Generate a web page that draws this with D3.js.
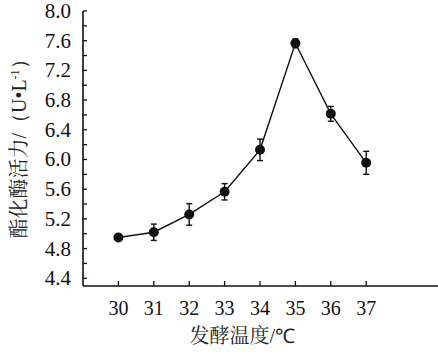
<!DOCTYPE html>
<html><head><meta charset="utf-8"><script src="https://cdn.jsdelivr.net/npm/d3@7"></script></head>
<body style="margin:0">
<script>
// data
const temps = [30, 31, 32, 33, 34, 35, 36, 37];
const activity = [4.95, 5.02, 5.26, 5.565, 6.13, 7.565, 6.615, 5.955];
const errors = [0.03, 0.11, 0.145, 0.11, 0.145, 0.06, 0.10, 0.155];
const yTickLabels = [4.4, 4.8, 5.2, 5.6, 6.0, 6.4, 6.8, 7.2, 7.6, 8.0];

const FONT = "'Liberation Serif'";
const CJK = "'Noto Serif CJK SC', 'Noto Sans CJK SC'";

const W = 438, H = 353;
const margin = { top: 11, right: 0, bottom: 67, left: 83 };
const width = W - margin.left - margin.right;
const height = H - margin.top - margin.bottom;

const svg = d3.select("body").append("svg")
    .attr("width", W)
    .attr("height", H);

const g = svg.append("g")
    .attr("transform", `translate(${margin.left},${margin.top})`);

const x = d3.scaleLinear().domain([29, 39]).range([0, width - 1]);
const y = d3.scaleLinear().domain([4.296, 8.0]).range([height, 0]);

// y axis: minor ticks every 0.2, labels every 0.4
const yMinor = d3.range(4.4, 8.01, 0.2);
g.selectAll(".yminor")
    .data(yMinor)
    .enter().append("line")
    .attr("x1", 0).attr("x2", 4)
    .attr("y1", d => y(d)).attr("y2", d => y(d))
    .attr("stroke", "#111").attr("stroke-width", 1.3);

g.selectAll(".ylab")
    .data(yTickLabels)
    .enter().append("text")
    .attr("x", -12)
    .attr("y", d => y(d) + 7)
    .attr("text-anchor", "end")
    .style("font-family", FONT, "important")
    .style("font-size", "21px", "important")
    .attr("fill", "#111")
    .text(d => d.toFixed(1));

// x axis ticks point inside
g.selectAll(".xtick")
    .data(temps)
    .enter().append("line")
    .attr("x1", d => x(d)).attr("x2", d => x(d))
    .attr("y1", height).attr("y2", height - 5)
    .attr("stroke", "#111").attr("stroke-width", 1.3);

g.selectAll(".xlab")
    .data(temps)
    .enter().append("text")
    .attr("x", d => x(d))
    .attr("y", height + 29)
    .attr("text-anchor", "middle")
    .style("font-family", FONT, "important")
    .style("font-size", "20px", "important")
    .attr("fill", "#111")
    .text(d => d);

// axis lines
g.append("line")
    .attr("x1", 0).attr("x2", 0)
    .attr("y1", y(8.0)).attr("y2", height)
    .attr("stroke", "#111").attr("stroke-width", 1.6);
g.append("line")
    .attr("x1", 0).attr("x2", width)
    .attr("y1", height).attr("y2", height)
    .attr("stroke", "#111").attr("stroke-width", 1.6);

// line
const pts = temps.map((t, i) => ({ t, v: activity[i], e: errors[i] }));
g.append("path")
    .datum(pts)
    .attr("fill", "none")
    .attr("stroke", "#111")
    .attr("stroke-width", 1.4)
    .attr("d", d3.line().x(d => x(d.t)).y(d => y(d.v)));

// error bars
const eb = g.selectAll(".err").data(pts).enter().append("g");
eb.append("line")
    .attr("x1", d => x(d.t)).attr("x2", d => x(d.t))
    .attr("y1", d => y(d.v - d.e)).attr("y2", d => y(d.v + d.e))
    .attr("stroke", "#111").attr("stroke-width", 1.4);
eb.append("line")
    .attr("x1", d => x(d.t) - 3).attr("x2", d => x(d.t) + 3)
    .attr("y1", d => y(d.v + d.e)).attr("y2", d => y(d.v + d.e))
    .attr("stroke", "#111").attr("stroke-width", 1.4);
eb.append("line")
    .attr("x1", d => x(d.t) - 3).attr("x2", d => x(d.t) + 3)
    .attr("y1", d => y(d.v - d.e)).attr("y2", d => y(d.v - d.e))
    .attr("stroke", "#111").attr("stroke-width", 1.4);

// markers
g.selectAll(".dot")
    .data(pts)
    .enter().append("circle")
    .attr("cx", d => x(d.t))
    .attr("cy", d => y(d.v))
    .attr("r", 5)
    .attr("fill", "#111");

// axis titles
const xt = g.append("text")
    .attr("x", (x(30) + x(37)) / 2)
    .attr("y", height + 57)
    .attr("text-anchor", "middle")
    .style("font-family", CJK, "important")
    .style("font-size", "20px", "important")
    .attr("fill", "#222");
xt.append("tspan").text("发酵温度");
xt.append("tspan").style("font-family", FONT, "important").text("/℃");

const yt = svg.append("text")
    .attr("transform", `translate(26,144) rotate(-90)`)
    .attr("text-anchor", "middle")
    .style("font-family", CJK, "important")
    .style("font-size", "20px", "important")
    .attr("fill", "#222");
yt.append("tspan").text("酯化酶活力");
yt.append("tspan").style("font-family", FONT, "important").text("/（U•L");
yt.append("tspan").style("font-family", FONT, "important")
    .style("font-size", "12px", "important").attr("dy", -7).text("-1");
yt.append("tspan").style("font-family", FONT, "important").attr("dy", 7).text("）");
</script>
</body>
</html>
